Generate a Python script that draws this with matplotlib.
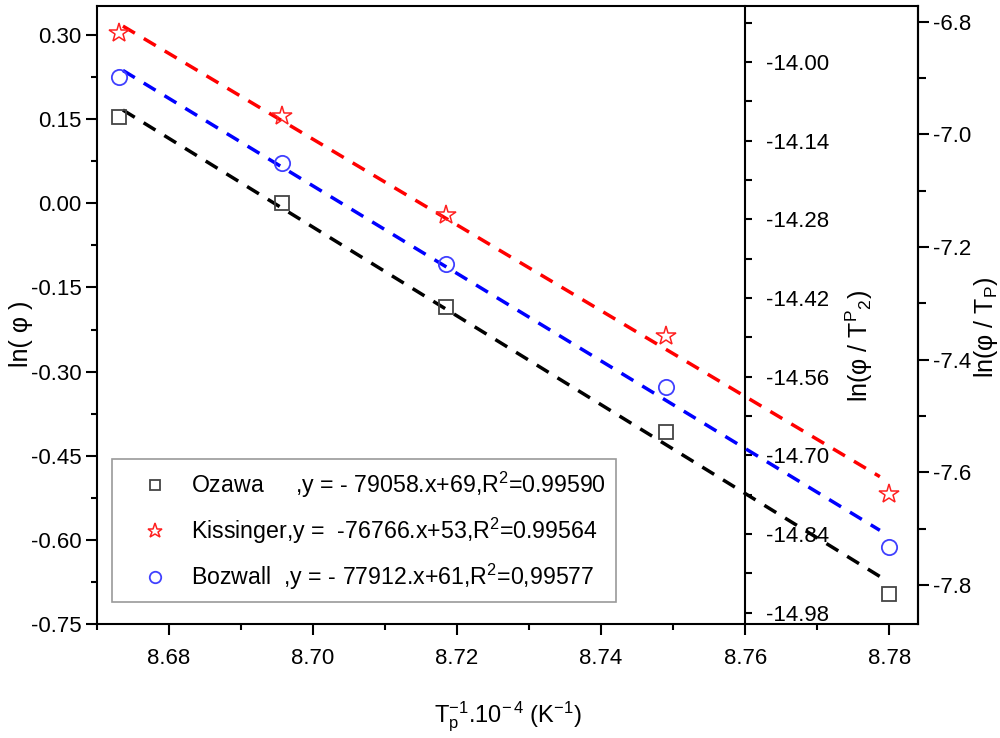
import matplotlib
matplotlib.use("Agg")
import matplotlib.pyplot as plt
from matplotlib.ticker import MultipleLocator, FormatStrFormatter
import numpy as np

plt.rcParams["font.family"] = ["Liberation Sans", "DejaVu Sans"]
plt.rcParams["mathtext.default"] = "regular"
plt.rcParams["axes.unicode_minus"] = False

# x: Tp^-1 . 10^-4 (K^-1)
inv_tp = [8.6731, 8.6957, 8.7185, 8.7490, 8.7800]
# Ozawa  -> ln(phi), left axis
ln_phi = [0.154, 0.000, -0.184, -0.407, -0.696]
# Kissinger -> ln(phi / Tp^2), middle axis
ln_phi_tp2 = [-13.949, -14.096, -14.273, -14.487, -14.769]
# Bozwall -> ln(phi / Tp), right axis
ln_phi_tp = [-6.898, -7.051, -7.230, -7.449, -7.733]
# x range covered by the fitted lines
fit_span = [8.6736, 8.7787]

legend_labels = [
    "Ozawa     ,y = - 79058.x+69,R$^2$=0.99590",
    "Kissinger,y =  -76766.x+53,R$^2$=0.99564",
    "Bozwall  ,y = - 77912.x+61,R$^2$=0,99577",
]

TICK_FS = 16
LABEL_FS = 18

fig = plt.figure(figsize=(10, 7.38), dpi=100)
ax = fig.add_axes([0.097, 0.1545, 0.821, 0.8375])
ax_mid = ax.twinx()
ax_r = ax.twinx()

dash = (0, (4, 3))
xs = np.array(fit_span)


def fit_line(axis, y, color):
    coef = np.polyfit(inv_tp, y, 1)
    axis.plot(xs, np.polyval(coef, xs), ls=dash, lw=2.5, color=color)


fit_line(ax, ln_phi, "black")
fit_line(ax_mid, ln_phi_tp2, "#ff0000")
fit_line(ax_r, ln_phi_tp, "#0000ff")

h1, = ax.plot(inv_tp, ln_phi, "s", mfc="none", mec="#444444", ms=10, mew=1.3, ls="none")
h2, = ax_mid.plot(inv_tp, ln_phi_tp2, "*", mfc="none", mec="#ff2020", ms=15, mew=1.1, ls="none")
h3, = ax_r.plot(inv_tp, ln_phi_tp, "o", mfc="none", mec="#4040ff", ms=11, mew=1.3, ls="none")

# limits
ax.set_xlim(8.67, 8.784)
ax.set_ylim(-0.75, 0.352)
ax_mid.set_ylim(-15.0, -13.90)
ax_r.set_ylim(-7.869, -6.772)

# left / bottom axis
ax.xaxis.set_major_locator(MultipleLocator(0.02))
ax.xaxis.set_minor_locator(MultipleLocator(0.01))
ax.xaxis.set_major_formatter(FormatStrFormatter("%.2f"))
ax.set_yticks(np.arange(-0.75, 0.31, 0.15))
ax.set_yticks(np.arange(-0.675, 0.31, 0.15), minor=True)
ax.yaxis.set_major_formatter(FormatStrFormatter("%.2f"))
ax.tick_params(which="major", length=8, width=1.5, labelsize=TICK_FS, pad=3)
ax.tick_params(which="minor", length=4, width=1.5)
ax.tick_params(axis="x", which="major", pad=9)

# middle axis at x = 8.76
ax_mid.spines["right"].set_position(("data", 8.76))
ax_mid.set_yticks(np.arange(-14.98, -13.99, 0.14))
ax_mid.set_yticks(np.arange(-14.91, -13.90, 0.14), minor=True)
ax_mid.yaxis.set_major_formatter(FormatStrFormatter("%.2f"))
ax_mid.tick_params(which="both", length=5, width=1.5, labelsize=TICK_FS, pad=10)

# right axis
ax_r.set_yticks(np.arange(-7.8, -6.79, 0.2))
ax_r.set_yticks(np.arange(-7.7, -6.79, 0.2), minor=True)
ax_r.yaxis.set_major_formatter(FormatStrFormatter("%.1f"))
ax_r.tick_params(which="major", length=8, width=1.5, labelsize=TICK_FS, pad=3)
ax_r.tick_params(which="minor", length=6, width=1.5)

for a in (ax, ax_mid, ax_r):
    for s in a.spines.values():
        s.set_linewidth(1.5)
for a in (ax_mid, ax_r):
    for name in ("left", "top", "bottom"):
        a.spines[name].set_visible(False)

# axis labels
ax.set_xlabel("T$_p^{-1}$.10$^{-\\,4}$ (K$^{-1}$)", fontsize=17)
ax.xaxis.set_label_coords(0.5, -0.123)
ax.set_ylabel("ln( φ )", fontsize=LABEL_FS)
ax.yaxis.set_label_coords(-0.078, 0.47)
ax_mid.set_ylabel("ln(φ / T$^{P}$$_{2}$)", fontsize=LABEL_FS, rotation=90)
ax_mid.yaxis.set_label_coords(0.909, 0.45)
ax_r.set_ylabel("ln(φ / T$_{P}$)", fontsize=LABEL_FS, rotation=90)
ax_r.yaxis.set_label_coords(1.066, 0.48)

leg = ax_r.legend(
    [h1, h2, h3], legend_labels,
    loc="lower left", bbox_to_anchor=(0.112, 0.184), bbox_transform=fig.transFigure,
    fontsize=16.7, frameon=True, fancybox=False, edgecolor="#808080",
    handlelength=2.8, handletextpad=0.15, borderpad=0.45, labelspacing=0.68,
    borderaxespad=0, markerscale=0.75,
)
leg.get_frame().set_linewidth(1.2)

fig.savefig("out.png", dpi=100)
